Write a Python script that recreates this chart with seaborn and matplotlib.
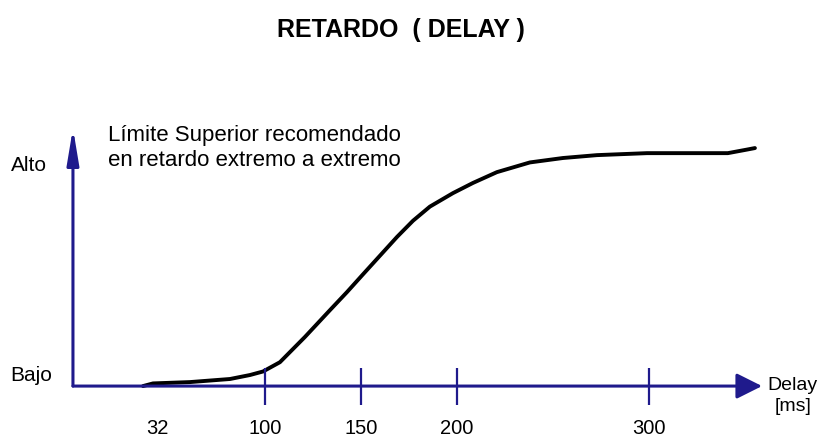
import pandas as pd
import seaborn as sns
import matplotlib.pyplot as plt

# ---------------- Data ----------------
# delay in ms (axis position) and relative level (0 = Bajo, 1 = Alto)
delay_ms = [36.5, 41.7, 60.9, 81.8, 92.2, 99.0, 107.8, 120.8, 133.9, 142.7,
            151.0, 159.9, 168.8, 177.1, 185.9, 197.9, 208.3, 220.8, 238.0,
            255.2, 272.9, 299.0, 325.0, 341.1, 351.0, 355.2]
level = [0.0, 0.012, 0.018, 0.032, 0.050, 0.066, 0.108, 0.222, 0.344, 0.425,
         0.505, 0.590, 0.675, 0.748, 0.812, 0.873, 0.919, 0.968, 1.012,
         1.032, 1.045, 1.054, 1.054, 1.054, 1.070, 1.077]

tick_marks = [100, 150, 200, 300]
tick_label_pos = [43.8, 100, 150, 200, 300]
tick_labels = ["32", "100", "150", "200", "300"]
y_label_names = ["Bajo", "Alto"]
y_label_levels = [0.05, 1.0]

TITLE = "RETARDO  ( DELAY )"
NOTE = "Límite Superior recomendado\nen retardo extremo a extremo"
X_NAME = "Delay\n[ms]"

NAVY = "#1f1a8c"

# ---------------- Plot ----------------
sns.set_theme(style="white")
plt.rcParams['font.family'] = ['Liberation Sans', 'DejaVu Sans']

fig = plt.figure(figsize=(8.25, 4.38), dpi=100)
ax = fig.add_axes([0, 0, 1, 1])
ax.set_xlim(-38.0, 391.7)
ax.set_ylim(-0.235, 1.747)
ax.axis("off")

df = pd.DataFrame({"delay": delay_ms, "level": level})
sns.lineplot(data=df, x="delay", y="level", ax=ax, color="black",
             linewidth=2.8, sort=False)

# axes with arrows
ax.annotate("", xy=(358.9, 0), xytext=(0, 0),
            arrowprops=dict(arrowstyle="-|>,head_length=1.3,head_width=0.65",
                            color=NAVY, lw=2.2, shrinkA=0, shrinkB=0))
ax.annotate("", xy=(0, 1.167), xytext=(0, 0),
            arrowprops=dict(arrowstyle="-|>,head_length=1.8,head_width=0.3",
                            color=NAVY, lw=2.2, shrinkA=0, shrinkB=0))

# tick marks and labels
ax.vlines(tick_marks, -0.086, 0.081, color=NAVY, lw=1.6)
for x, lab in zip(tick_label_pos, tick_labels):
    ax.text(x, -0.19, lab, ha="center", va="center", fontsize=14.5,
            color="black")

for lab, y in zip(y_label_names, y_label_levels):
    ax.text(-32.5, y, lab, ha="left", va="center", fontsize=15, color="black")

ax.text(375, -0.045, X_NAME, ha="center", va="center", fontsize=14,
        linespacing=1.3, color="black")
ax.text(18.4, 1.077, NOTE, ha="left", va="center", fontsize=16,
        linespacing=1.3, color="black")

fig.text(401 / 825, 1 - 30 / 438, TITLE, ha="center", va="center",
         fontsize=18, fontweight="bold", color="black")

plt.savefig("out.png", dpi=100)
